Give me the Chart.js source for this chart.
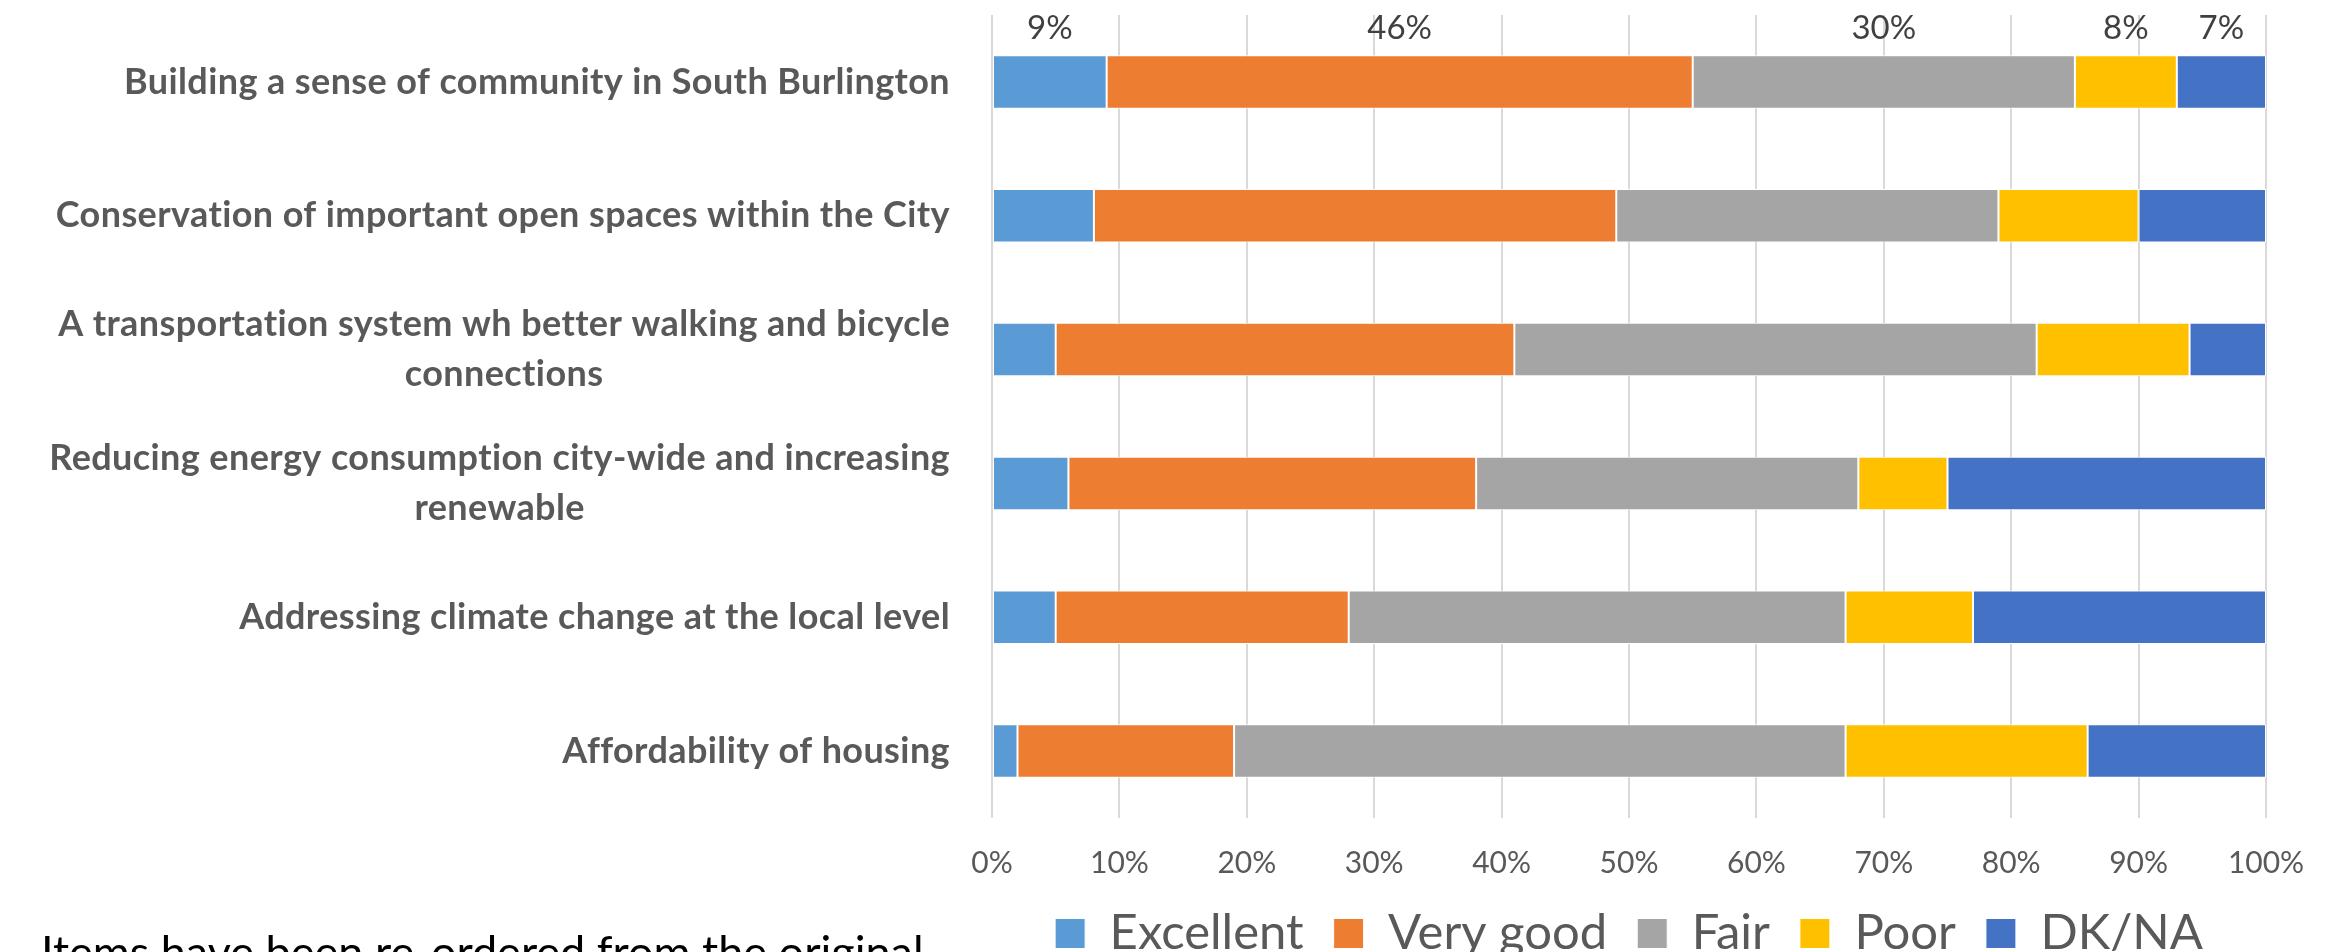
<!DOCTYPE html>
<html>
<head>
<meta charset="utf-8">
<script src="https://cdn.jsdelivr.net/npm/chart.js@4"></script>
<style>
  body { margin: 0; background: #fff; overflow: hidden; }
  #wrap { position: relative; width: 2328px; height: 952px; overflow: hidden; }
  #note {
    position: absolute; left: 41px; top: 929px;
    font-family: Lato, sans-serif; font-size: 45px; line-height: 45px;
    color: #000; white-space: nowrap;
  }
</style>
</head>
<body>
<div id="wrap">
  <canvas id="chart"></canvas>
  <div id="note">Items have been re-ordered from the original</div>
</div>
<script>
// rows of the chart, top to bottom
const categories = [
  "Building a sense of community in South Burlington",
  "Conservation of important open spaces within the City",
  ["A transportation system wh better walking and bicycle", "connections"],
  ["Reducing energy consumption city-wide and increasing", "renewable"],
  "Addressing climate change at the local level",
  "Affordability of housing"
];

// percent of answers per row
const excellent = [9, 8, 5, 6, 5, 2];
const veryGood = [46, 41, 36, 32, 23, 17];
const fair = [30, 30, 41, 30, 39, 48];
const poor = [8, 11, 12, 7, 10, 19];
const dkna = [7, 10, 6, 25, 23, 14];

// only the first row has value labels
const labelRow = 0;

Chart.defaults.font.family = "Lato, 'Open Sans', sans-serif";
Chart.defaults.color = "#595959";

// draw the category names ourselves so wrapped lines are centred on each other
const categoryLabels = {
  id: "categoryLabels",
  afterDraw(chart) {
    const { ctx, chartArea, scales } = chart;
    ctx.save();
    ctx.font = "bold 36px Lato";
    ctx.letterSpacing = "0.4px";
    ctx.fillStyle = "#595959";
    ctx.textAlign = "center";
    ctx.textBaseline = "middle";
    categories.forEach((label, i) => {
      const lines = Array.isArray(label) ? label : [label];
      const widest = Math.max(...lines.map((l) => ctx.measureText(l).width));
      const cx = chartArea.left - 42 - widest / 2;
      const cy = scales.y.getPixelForValue(i);
      lines.forEach((line, j) => {
        ctx.fillText(line, cx, cy + (j - (lines.length - 1) / 2) * 50);
      });
    });
    ctx.restore();
  }
};

// percent labels above the first bar
const topLabels = {
  id: "topLabels",
  afterDatasetsDraw(chart) {
    const { ctx } = chart;
    ctx.save();
    ctx.font = "33px Lato";
    ctx.fillStyle = "#404040";
    ctx.textAlign = "center";
    ctx.textBaseline = "middle";
    chart.data.datasets.forEach((ds, d) => {
      const bar = chart.getDatasetMeta(d).data[labelRow];
      const x = (bar.x + bar.base) / 2;
      const y = bar.y - bar.height / 2 - 27;
      ctx.fillText(ds.data[labelRow] + "%", x, y);
    });
    ctx.restore();
  }
};

const ctx = document.getElementById("chart").getContext("2d");

new Chart(ctx, {
  type: "bar",
  data: {
    labels: categories,
    datasets: [
      { label: "Excellent", data: excellent, backgroundColor: "#5B9BD5" },
      { label: "Very good", data: veryGood, backgroundColor: "#ED7D31" },
      { label: "Fair", data: fair, backgroundColor: "#A5A5A5" },
      { label: "Poor", data: poor, backgroundColor: "#FFC000" },
      { label: "DK/NA", data: dkna, backgroundColor: "#4472C4" }
    ]
  },
  options: {
    indexAxis: "y",
    responsive: true,
    maintainAspectRatio: false,
    animation: false,
    datasets: {
      bar: {
        categoryPercentage: 0.8,
        barPercentage: 0.5,
        borderWidth: 1,
        borderColor: "#ffffff",
        borderSkipped: false
      }
    },
    layout: {
      padding: { left: 0, right: 62, top: 15, bottom: -16 }
    },
    plugins: {
      legend: {
        position: "bottom",
        fullSize: false,
        labels: {
          boxWidth: 30,
          boxHeight: 30,
          padding: 30,
          color: "#595959",
          font: { size: 49 }
        }
      },
      tooltip: { enabled: false }
    },
    scales: {
      x: {
        stacked: true,
        min: 0,
        max: 100,
        ticks: {
          stepSize: 10,
          padding: 30,
          color: "#595959",
          font: { size: 30, lineHeight: 1 },
          callback: (v) => v + "%"
        },
        grid: { color: "#d9d9d9", lineWidth: 2, drawTicks: false },
        border: { display: false },
        afterFit: (scale) => {
          scale.height = 61;
          // layout padding already leaves room for the end labels
          scale.paddingLeft = 0;
          scale.paddingRight = 0;
        }
      },
      y: {
        stacked: true,
        ticks: { display: false },
        grid: { display: false },
        border: { display: false },
        afterFit: (scale) => { scale.width = 992; }
      }
    }
  },
  plugins: [categoryLabels, topLabels]
});
</script>
</body>
</html>
